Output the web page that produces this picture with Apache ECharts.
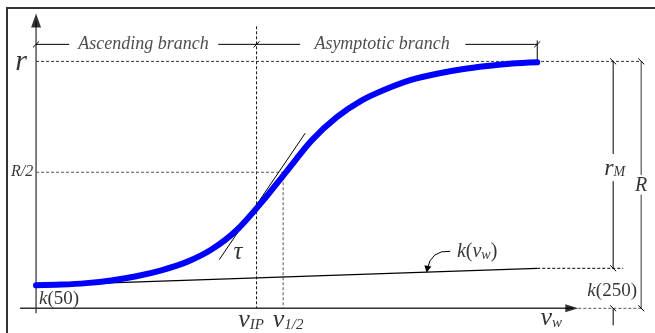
<!DOCTYPE html>
<html><head><meta charset="utf-8">
<script src="https://cdn.jsdelivr.net/npm/echarts@6/dist/echarts.min.js"></script>
<style>html,body{margin:0;padding:0;background:#fff}#c{width:655px;height:333px}</style>
</head><body><div id="c"></div>
<script>
// ---- data (v_w on x, r normalised so that r = 1 at the asymptote) ----
const vW     = [50, 60, 70, 80, 90, 100, 110, 120, 130, 140, 150, 160, 170, 180, 190, 200, 210, 220, 230, 240, 250];
const rCurve = [0.093, 0.096, 0.102, 0.113, 0.130, 0.154, 0.187, 0.238, 0.316, 0.429, 0.555, 0.680, 0.774, 0.842, 0.889, 0.926, 0.950, 0.968, 0.981, 0.991, 0.996];
const vStart = 50, vEnd = 250;
const vIP = 138, vHalf = 148.6;
const rTop = 1.0, rHalf = 0.551;
const k50 = 0.093, k250 = 0.162;
const vRM = 280.3, vR = 291.5;
const tangentPts = [[123.1, 0.197], [157.4, 0.709]];
const rBranch = 1.069;           // level of the branch dimension line
const vAscText = [63.2, 122.7];  // gap for "Ascending branch" text
const vAsyText = [155.4, 221.3]; // gap for "Asymptotic branch" text
const vAxisEnd = 266.4, vDashEnd = 291.9, vAxisStart = 43.6;
const rAxisTop = 1.194, rAxisBottom = -0.02, rIPTop = 1.142;
const vKDashEnd = 284.3, rRMBottom = -0.069;

const DV = 1.2, DR = 0.0121; // half tick size in data units

const chart = echarts.init(document.getElementById('c'), null, {renderer: 'canvas'});
const FONT = '"Liberation Serif", "Times New Roman", serif';

function seg(points, color, width, type, z) {
  return {type: 'line', data: points, symbol: 'none', showSymbol: false, clip: false, silent: true,
    animation: false, z: z || 2, lineStyle: {color: color, width: width, type: type || 'solid'}};
}
function tick(v, r, dir) { // dir 1 = "/", -1 = "\"
  return {coords: [[v - DV, r - dir * DR], [v + DV, r + dir * DR]]};
}

const series = [];
// axes
series.push(seg([[vStart, rAxisBottom], [vStart, rAxisTop - 0.03]], '#555', 1.5));
series.push(seg([[vAxisStart, 0], [vAxisEnd - 2, 0]], '#333', 1.5));
series.push(seg([[vAxisEnd, 0], [vDashEnd, 0]], '#555', 1, [3, 2]));
// dashed guides
series.push(seg([[vStart, rTop], [vDashEnd, rTop]], '#333', 1, [3, 2]));
series.push(seg([[vIP, rIPTop], [vIP, 0]], '#111', 1, [3, 2]));
series.push(seg([[vStart, rHalf], [vHalf, rHalf]], '#555', 1, [3, 2]));
series.push(seg([[vHalf, rHalf], [vHalf, 0]], '#555', 1, [3, 2]));
// k line
series.push(seg([[vStart, k50], [vEnd, k250]], '#000', 1.2, 'solid', 3));
series.push(seg([[vEnd, k250], [vKDashEnd, k250]], '#000', 1, [3, 2]));
// tangent
series.push(seg(tangentPts, '#000', 1, 'solid', 4));
// dimension lines
series.push(seg([[vRM, rTop], [vRM, 0.625]], '#000', 1));
series.push(seg([[vRM, 0.515], [vRM, k250]], '#000', 1));
series.push(seg([[vRM, 0], [vRM, rRMBottom]], '#000', 1));
series.push(seg([[vR, rTop], [vR, 0.54]], '#777', 1.5));
series.push(seg([[vR, 0.46], [vR, 0]], '#777', 1.5));
series.push(seg([[vStart, rBranch], [vAscText[0], rBranch]], '#000', 1));
series.push(seg([[vAscText[1], rBranch], [vIP, rBranch]], '#000', 1));
series.push(seg([[vIP, rBranch], [vAsyText[0], rBranch]], '#000', 1));
series.push(seg([[vAsyText[1], rBranch], [vEnd, rBranch]], '#000', 1));
series.push(seg([[vEnd, rBranch + 0.016], [vEnd, rTop]], '#000', 1));
// the sigmoid curve
series.push({type: 'line', data: vW.map((v, i) => [v, rCurve[i]]), smooth: 0.3, symbol: 'none', clip: false,
  silent: true, animation: false, z: 5, lineStyle: {color: '#0000ff', width: 6, cap: 'round', join: 'round'}});
// ticks
series.push({type: 'lines', coordinateSystem: 'cartesian2d', silent: true, animation: false, z: 6,
  lineStyle: {color: '#000', width: 1, opacity: 1},
  data: [tick(vStart, rBranch, 1), tick(vIP, rBranch, 1), tick(vEnd, rBranch, 1),
         tick(vRM, rTop, -1), tick(vR, rTop, -1), tick(vRM, k250, -1), tick(vRM, 0, -1), tick(vR, 0, -1)]});
// curved arrow to k line
series.push({type: 'lines', coordinateSystem: 'cartesian2d', silent: true, animation: false, z: 6,
  symbol: ['none', 'triangle'], symbolSize: 7,
  lineStyle: {color: '#000', width: 1, curveness: -0.45, opacity: 1},
  data: [{coords: [[215.3, 0.231], [206.1, 0.158]]}]});
// arrow heads of axes
series.push({type: 'scatter', silent: true, animation: false, z: 6, itemStyle: {color: '#000'},
  data: [{value: [vStart, 1.166], symbol: 'triangle', symbolSize: [10, 14]},
         {value: [263.8, 0], symbol: 'triangle', symbolSize: [8, 13], symbolRotate: -90}]});

// labels
const rich = {
  i:  {fontFamily: FONT, fontStyle: 'italic', fontSize: 19, color: '#000'},
  n:  {fontFamily: FONT, fontSize: 19, color: '#000'},
  ki: {fontFamily: FONT, fontStyle: 'italic', fontSize: 20, color: '#000'},
  kn: {fontFamily: FONT, fontSize: 20, color: '#000'},
  s:  {fontFamily: FONT, fontStyle: 'italic', fontSize: 14, color: '#000', padding: [9, 0, 0, 0]},
  V:  {fontFamily: FONT, fontStyle: 'italic', fontSize: 26, color: '#000'},
  S:  {fontFamily: FONT, fontStyle: 'italic', fontSize: 15, color: '#000', padding: [10, 0, 0, 0]},
  big:{fontFamily: FONT, fontStyle: 'italic', fontSize: 30, color: '#000'},
  tau:{fontFamily: FONT, fontStyle: 'italic', fontSize: 25, color: '#000'},
  br: {fontFamily: FONT, fontStyle: 'italic', fontSize: 18, color: '#222'},
  rh: {fontFamily: FONT, fontStyle: 'italic', fontSize: 16, color: '#000'},
  R:  {fontFamily: FONT, fontStyle: 'italic', fontSize: 20, color: '#000'},
  rm: {fontFamily: FONT, fontStyle: 'italic', fontSize: 24, color: '#000'},
  ms: {fontFamily: FONT, fontStyle: 'italic', fontSize: 14, color: '#000', padding: [9, 0, 0, 0]}
};
const labelTexts = [
  {at: [44.0, 0.996],  t: '{big|r}'},
  {at: [44.4, 0.551],  t: '{rh|R/2}'},
  {at: [59.2, 0.038],  t: '{i|k}{n|(50)}'},
  {at: [130.6, 0.227], t: '{tau|τ}'},
  {at: [135.8, -0.049], t: '{V|v}{S|IP}'},
  {at: [150.6, -0.049], t: '{V|v}{S|1/2}'},
  {at: [255.6, -0.040], t: '{V|v}{S|w}'},
  {at: [279.9, 0.069],  t: '{i|k}{n|(250)}'},
  {at: [280.9, 0.567],  t: '{rm|r}{ms|M}'},
  {at: [291.5, 0.498],  t: '{R|R}'},
  {at: [226.0, 0.231],  t: '{ki|k}{kn|(}{ki|v}{s|w}{kn|)}'},
  {at: [92.9, rBranch], t: '{br|Ascending branch}'},
  {at: [188.1, rBranch], t: '{br|Asymptotic branch}'}
];
series.push({type: 'scatter', silent: true, animation: false, z: 7, symbolSize: 0,
  data: labelTexts.map(l => ({value: l.at, label: {show: true, position: 'inside', formatter: l.t, rich: rich}}))});

chart.setOption({
  animation: false,
  backgroundColor: '#fff',
  grid: {left: 11, right: 5, top: 12, bottom: 0},
  xAxis: {type: 'value', min: 40, max: 295, show: false},
  yAxis: {type: 'value', min: -0.1, max: 1.2, show: false},
  graphic: [{type: 'rect', shape: {x: 7, y: 8, width: 720, height: 400}, style: {fill: 'none', stroke: '#333', lineWidth: 2}, z: 100}],
  series: series
});
</script></body></html>
